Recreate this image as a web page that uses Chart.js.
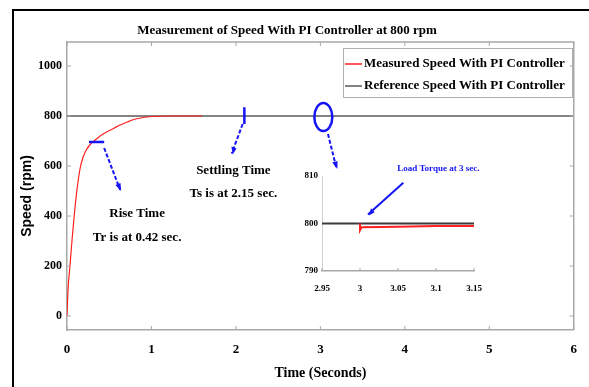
<!DOCTYPE html>
<html lang="en">
  <head>
    <meta charset="UTF-8" />
    <title>Measurement of Speed With PI Controller at 800 rpm</title>
    <script src="https://cdn.jsdelivr.net/npm/chart.js"></script>
    <style>
      body {
        margin: 0;
        background: #fff;
      }
      .wrap {
        position: relative;
        width: 589px;
        height: 387px;
        overflow: hidden;
      }
      .frame {
        position: absolute;
        left: 12px;
        top: 9px;
        width: 620px;
        height: 420px;
        border-left: 2px solid #000;
        border-top: 2px solid #000;
      }
      #speedChart {
        position: absolute;
        left: 0;
        top: 0;
      }
      #insetChart {
        position: absolute;
        left: 290px;
        top: 150px;
      }
    </style>
  </head>
  <body>
    <div class="wrap">
      <div class="frame"></div>
      <canvas id="speedChart" width="589" height="387"></canvas>
      <canvas id="insetChart" width="200" height="150"></canvas>
    </div>

    <script>
      // main plot data
      const measuredTime = [0, 0.012, 0.035, 0.06, 0.085, 0.12, 0.155, 0.19, 0.23, 0.28, 0.33, 0.4, 0.48, 0.56, 0.63, 0.72, 0.8, 0.9, 1.0, 1.2, 1.6];
      const measuredSpeed = [0, 104, 200, 305, 400, 510, 590, 635, 665, 688, 703, 722, 738, 752, 764, 777, 787, 794, 798, 800, 800];
      const referenceTime = [0, 6];
      const referenceSpeed = [800, 800];

      // zoomed inset around the load torque step
      const insetMeasuredTime = [3.0, 3.0, 3.002, 3.05, 3.1, 3.15];
      const insetMeasuredSpeed = [800, 798.6, 799.2, 799.3, 799.45, 799.5];
      const insetReferenceTime = [2.95, 3.15];
      const insetReferenceSpeed = [800, 800];

      const xTicks = [0, 1, 2, 3, 4, 5, 6];
      const yTicks = [0, 200, 400, 600, 800, 1000];
      const insetXTicks = ["2.95", "3", "3.05", "3.1", "3.15"];
      const insetYTicks = ["790", "800", "810"];

      const seriesLabels = ["Measured Speed With PI Controller", "Reference Speed With PI Controller"];

      const serif = "'Liberation Serif', 'DejaVu Serif', serif";
      const blue = "#1414f5";
      const axisGray = "#a8a8a8";

      function toPoints(xs, ys) {
        return xs.map((x, i) => ({ x: x, y: ys[i] }));
      }

      function arrow(ctx, x1, y1, x2, y2, dashed) {
        ctx.save();
        ctx.strokeStyle = blue;
        ctx.fillStyle = blue;
        ctx.lineWidth = 2;
        if (dashed) ctx.setLineDash([4, 2]);
        ctx.beginPath();
        ctx.moveTo(x1, y1);
        ctx.lineTo(x2, y2);
        ctx.stroke();
        ctx.setLineDash([]);
        const a = Math.atan2(y2 - y1, x2 - x1);
        const len = 7;
        ctx.beginPath();
        ctx.moveTo(x2 + 1, y2 + 1);
        ctx.lineTo(x2 - len * Math.cos(a - 0.4), y2 - len * Math.sin(a - 0.4));
        ctx.lineTo(x2 - len * Math.cos(a + 0.4), y2 - len * Math.sin(a + 0.4));
        ctx.closePath();
        ctx.fill();
        ctx.restore();
      }

      function inwardTicks(ctx, area, xs, ys, len, sides) {
        ctx.save();
        ctx.strokeStyle = axisGray;
        ctx.lineWidth = 1;
        ctx.beginPath();
        xs.forEach((px) => {
          ctx.moveTo(px, area.bottom);
          ctx.lineTo(px, area.bottom - len);
          if (sides) {
            ctx.moveTo(px, area.top);
            ctx.lineTo(px, area.top + len);
          }
        });
        ys.forEach((py) => {
          ctx.moveTo(area.left, py);
          ctx.lineTo(area.left + len, py);
          if (sides) {
            ctx.moveTo(area.right, py);
            ctx.lineTo(area.right - len, py);
          }
        });
        ctx.stroke();
        ctx.restore();
      }

      const mainDecor = {
        id: "mainDecor",
        afterDraw(chart) {
          const { ctx, chartArea: area, scales } = chart;
          const x = scales.x;
          const y = scales.y;

          // top and right box lines
          ctx.save();
          ctx.strokeStyle = axisGray;
          ctx.lineWidth = 1.5;
          ctx.beginPath();
          ctx.moveTo(area.left, area.top);
          ctx.lineTo(area.right, area.top);
          ctx.lineTo(area.right, area.bottom);
          ctx.stroke();
          ctx.restore();

          inwardTicks(
            ctx,
            area,
            xTicks.map((t) => x.getPixelForValue(t)),
            yTicks.map((v) => y.getPixelForValue(v)),
            4,
            true
          );

          // title
          ctx.save();
          ctx.fillStyle = "#000";
          ctx.font = "bold 13px " + serif;
          ctx.textAlign = "center";
          ctx.textBaseline = "middle";
          ctx.fillText("Measurement of Speed With PI Controller at 800 rpm", 287, 31);

          // y axis title
          ctx.translate(27, 196);
          ctx.rotate(-Math.PI / 2);
          ctx.font = "bold 14px 'Liberation Sans', Arial, sans-serif";
          ctx.fillText("Speed (rpm)", 0, 0);
          ctx.restore();

          // legend
          ctx.save();
          ctx.strokeStyle = "#b0b0b0";
          ctx.lineWidth = 1;
          ctx.strokeRect(343.5, 48.5, 229, 49);
          ctx.font = "bold 13px " + serif;
          ctx.textBaseline = "middle";
          chart.data.datasets.forEach((ds, i) => {
            const ly = 64 + i * 22;
            ctx.strokeStyle = ds.borderColor;
            ctx.lineWidth = 1.5;
            ctx.beginPath();
            ctx.moveTo(345, ly);
            ctx.lineTo(362, ly);
            ctx.stroke();
            ctx.fillStyle = "#000";
            ctx.fillText(ds.label, 364, ly);
          });
          ctx.restore();

          // annotations
          const px = (t) => x.getPixelForValue(t);
          const py = (v) => y.getPixelForValue(v);

          ctx.save();
          ctx.strokeStyle = blue;
          ctx.lineWidth = 2.5;
          ctx.beginPath();
          ctx.moveTo(px(0.26), py(696));
          ctx.lineTo(px(0.44), py(696));
          ctx.moveTo(px(2.1), py(835));
          ctx.lineTo(px(2.1), py(768));
          ctx.stroke();

          ctx.lineWidth = 2.5;
          ctx.beginPath();
          ctx.ellipse(px(3.035), py(796), 9, 14, 0, 0, Math.PI * 2);
          ctx.stroke();
          ctx.restore();

          arrow(ctx, px(0.44), py(672), px(0.63), py(504), true);
          arrow(ctx, px(2.08), py(768), px(1.95), py(650), true);
          arrow(ctx, px(3.09), py(728), px(3.19), py(592), true);

          ctx.save();
          ctx.fillStyle = "#000";
          ctx.font = "bold 13px " + serif;
          ctx.textAlign = "center";
          ctx.textBaseline = "middle";
          ctx.fillText("Rise Time", px(0.83), py(408));
          ctx.fillText("Tr is at 0.42 sec.", px(0.83), py(312));
          ctx.fillText("Settling Time", px(1.97), py(580));
          ctx.fillText("Ts is at 2.15 sec.", px(1.97), py(488));
          ctx.restore();
        },
      };

      new Chart(document.getElementById("speedChart"), {
        type: "line",
        data: {
          datasets: [
            {
              label: seriesLabels[0],
              data: toPoints(measuredTime, measuredSpeed),
              borderColor: "#ff2020",
              borderWidth: 1.2,
              pointRadius: 0,
              cubicInterpolationMode: "monotone",
            },
            {
              label: seriesLabels[1],
              data: toPoints(referenceTime, referenceSpeed),
              borderColor: "#5a5a5a",
              borderWidth: 1.5,
              pointRadius: 0,
            },
          ],
        },
        options: {
          responsive: false,
          animation: false,
          devicePixelRatio: 1,
          layout: { padding: { top: 42, right: 14, left: 0, bottom: 0 } },
          plugins: {
            legend: { display: false },
            tooltip: { enabled: false },
          },
          scales: {
            x: {
              type: "linear",
              min: 0,
              max: 6,
              afterFit: (s) => {
                s.height = 57;
              },
              grid: { display: false, drawTicks: false },
              border: { color: axisGray, width: 1.5 },
              ticks: {
                stepSize: 1,
                padding: 12,
                color: "#000",
                font: { family: serif, size: 13, weight: "bold" },
              },
              title: {
                display: true,
                text: "Time (Seconds)",
                color: "#000",
                font: { family: serif, size: 14, weight: "bold" },
                padding: { top: 0, bottom: 5 },
              },
            },
            y: {
              min: -56,
              max: 1096,
              afterFit: (s) => {
                s.width = 67;
              },
              grid: { display: false, drawTicks: false },
              border: { color: axisGray, width: 1.5 },
              ticks: {
                stepSize: 200,
                includeBounds: false,
                padding: 5,
                color: "#000",
                callback: (v) => String(v),
                font: { family: serif, size: 12, weight: "bold" },
              },
            },
          },
        },
        plugins: [mainDecor],
      });

      const insetDecor = {
        id: "insetDecor",
        afterDraw(chart) {
          const { ctx, chartArea: area, scales } = chart;
          const x = scales.x;
          const y = scales.y;
          inwardTicks(
            ctx,
            area,
            insetXTicks.map((t) => x.getPixelForValue(Number(t))),
            [],
            3,
            false
          );
          const px = (t) => x.getPixelForValue(t);
          const py = (v) => y.getPixelForValue(v);
          arrow(ctx, px(3.057), py(808.6), px(3.0105), py(801.9), false);
          ctx.save();
          ctx.fillStyle = blue;
          ctx.font = "bold 9px " + serif;
          ctx.textAlign = "center";
          ctx.textBaseline = "middle";
          ctx.fillText("Load Torque at 3 sec.", px(3.103), py(811.6));
          ctx.restore();
        },
      };

      new Chart(document.getElementById("insetChart"), {
        type: "line",
        data: {
          datasets: [
            {
              label: seriesLabels[0],
              data: toPoints(insetMeasuredTime, insetMeasuredSpeed),
              borderColor: "#ff2020",
              borderWidth: 2,
              pointRadius: 0,
            },
            {
              label: seriesLabels[1],
              data: toPoints(insetReferenceTime, insetReferenceSpeed),
              borderColor: "#3a3a3a",
              borderWidth: 2,
              pointRadius: 0,
            },
          ],
        },
        options: {
          responsive: false,
          animation: false,
          devicePixelRatio: 1,
          layout: { padding: { top: 26, right: 16, left: 0, bottom: 0 } },
          plugins: {
            legend: { display: false },
            tooltip: { enabled: false },
          },
          scales: {
            x: {
              type: "linear",
              min: Number(insetXTicks[0]),
              max: Number(insetXTicks[insetXTicks.length - 1]),
              afterFit: (s) => {
                s.height = 29;
                s.paddingLeft = 0;
                s.paddingRight = 0;
              },
              grid: { display: false, drawTicks: false },
              border: { color: axisGray, width: 1.5 },
              afterBuildTicks: (s) => {
                s.ticks = insetXTicks.map((t) => ({ value: Number(t) }));
              },
              ticks: {
                padding: 12,
                color: "#000",
                callback: (v, i) => insetXTicks[i],
                font: { family: serif, size: 9, weight: "bold" },
              },
            },
            y: {
              min: Number(insetYTicks[0]),
              max: Number(insetYTicks[insetYTicks.length - 1]),
              afterFit: (s) => {
                s.width = 32;
                s.paddingTop = 0;
                s.paddingBottom = 0;
              },
              grid: { display: false, drawTicks: false },
              border: { color: "#d0d0d0", width: 1 },
              afterBuildTicks: (s) => {
                s.ticks = insetYTicks.map((t) => ({ value: Number(t) }));
              },
              ticks: {
                padding: 4,
                color: "#000",
                callback: (v, i) => insetYTicks[i],
                font: { family: serif, size: 9, weight: "bold" },
              },
            },
          },
        },
        plugins: [insetDecor],
      });
    </script>
  </body>
</html>
